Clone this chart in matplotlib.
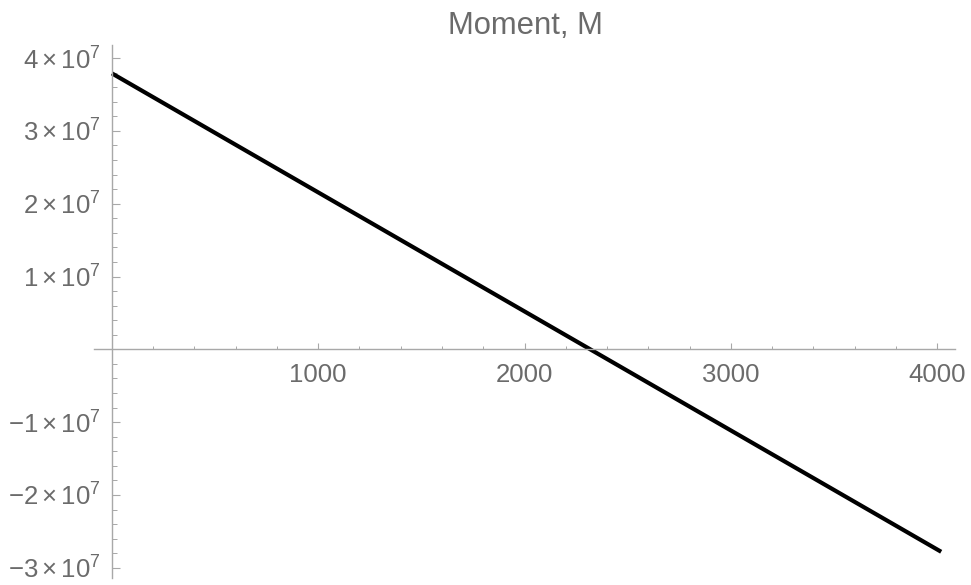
import matplotlib
matplotlib.use("Agg")
import matplotlib.pyplot as plt
from matplotlib.ticker import MultipleLocator, FuncFormatter

# moment along the beam (straight line)
x_pos = [0, 4020]
moment = [3.79e7, -2.78e7]
x_ticks = [1000, 2000, 3000, 4000]
y_ticks = [-3e7, -2e7, -1e7, 1e7, 2e7, 3e7, 4e7]
title = "Moment, M"

plt.rcParams["font.family"] = ["Liberation Sans", "DejaVu Sans"]
plt.rcParams["mathtext.fontset"] = "custom"
plt.rcParams["mathtext.rm"] = "Liberation Sans"
plt.rcParams["mathtext.it"] = "Liberation Sans"

axis_col = "#a8a8a8"
text_col = "#6b6b6b"

W, H = 971, 585
fig = plt.figure(figsize=(W / 100, H / 100), dpi=100)
ax = fig.add_axes([94 / W, 1 - 578 / H, (955 - 94) / W, (578 - 45) / H])

ax.plot(x_pos, moment, color="black", lw=3.0, solid_capstyle="butt")

ax.set_xlim(-87, 4087)
ax.set_ylim(-3.14e7, 4.18e7)

for side in ["top", "right"]:
    ax.spines[side].set_visible(False)
ax.spines["left"].set_position(("data", 0))
ax.spines["bottom"].set_position(("data", 0))
for side in ["left", "bottom"]:
    ax.spines[side].set_color(axis_col)
    ax.spines[side].set_linewidth(1.0)

ax.set_xticks(x_ticks)
ax.set_yticks(y_ticks)
ax.xaxis.set_minor_locator(MultipleLocator(200))
ax.yaxis.set_minor_locator(MultipleLocator(2e6))


def ylab(v, pos):
    m = int(round(v / 1e7))
    return r"$%s%d\times10^{7}$" % ("\u2212" if m < 0 else "", abs(m))


ax.yaxis.set_major_formatter(FuncFormatter(ylab))

ax.tick_params(axis="x", which="major", direction="in", length=4.2, width=0.8,
               color=axis_col, labelcolor=text_col, labelsize=18.5, pad=9.5)
ax.tick_params(axis="x", which="minor", direction="in", length=2.2, width=0.7,
               color=axis_col)
ax.tick_params(axis="y", which="major", direction="in", length=6, width=0.8,
               color=axis_col, labelcolor=text_col, labelsize=18.5, pad=8)
ax.tick_params(axis="y", which="minor", direction="in", length=3.6, width=0.7,
               color=axis_col)

fig.text(525 / W, 1 - 34 / H, title, ha="center", va="baseline",
         fontsize=22.3, color=text_col)

fig.savefig("out.png", dpi=100)
